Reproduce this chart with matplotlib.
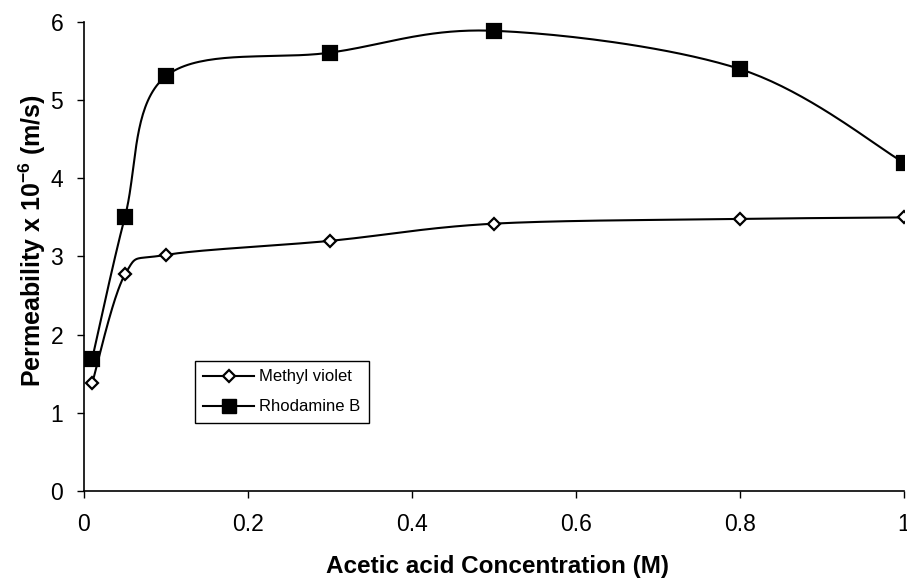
import numpy as np
import matplotlib
matplotlib.use("Agg")
import matplotlib.pyplot as plt
from matplotlib.lines import Line2D

plt.rcParams['font.family'] = ['Liberation Sans', 'DejaVu Sans']
plt.rcParams['mathtext.fontset'] = 'custom'
plt.rcParams['mathtext.rm'] = 'Liberation Sans'
plt.rcParams['mathtext.bf'] = 'Liberation Sans:bold'

concentration = [0.01, 0.05, 0.1, 0.3, 0.5, 0.8, 1.0]
methyl_violet = [1.38, 2.77, 3.02, 3.20, 3.42, 3.48, 3.50]
rhodamine_b = [1.69, 3.51, 5.31, 5.61, 5.89, 5.40, 4.20]

x_ticks = [0, 0.2, 0.4, 0.6, 0.8, 1]
x_tick_labels = ['0', '0.2', '0.4', '0.6', '0.8', '1']
y_ticks = [0, 1, 2, 3, 4, 5, 6]


def smooth_curve(ax, xs, ys, steps=40):
    """Spreadsheet-style smoothed line: cubic Bezier segments with
    Catmull-Rom control points, computed in display space."""
    pts = ax.transData.transform(np.column_stack([xs, ys]))
    n = len(pts)
    out = []
    t = np.linspace(0, 1, steps)[:, None]
    for i in range(n - 1):
        p0 = pts[i]
        p3 = pts[i + 1]
        prev = pts[i - 1] if i > 0 else pts[i]
        nxt = pts[i + 2] if i + 2 < n else pts[i + 1]
        p1 = p0 + (p3 - prev) / 6.0
        p2 = p3 - (nxt - p0) / 6.0
        seg = ((1 - t) ** 3) * p0 + 3 * ((1 - t) ** 2) * t * p1 \
            + 3 * (1 - t) * t ** 2 * p2 + t ** 3 * p3
        out.append(seg)
    curve = np.vstack(out)
    data = ax.transData.inverted().transform(curve)
    return data[:, 0], data[:, 1]


fig = plt.figure(figsize=(9.07, 5.8), dpi=100)
ax = fig.add_axes([84 / 907, (580 - 490.7) / 580, 820 / 907, 468.5 / 580])
ax.set_xlim(0, 1)
ax.set_ylim(0, 6)

for ys, marker, face, size, label in [
    (methyl_violet, 'D', 'white', 6.5, 'Methyl violet'),
    (rhodamine_b, 's', 'black', 9.5, 'Rhodamine B'),
]:
    cx, cy = smooth_curve(ax, concentration, ys)
    ax.plot(cx, cy, color='black', lw=1.5, zorder=2)
    ax.plot(concentration, ys, ls='none', marker=marker, ms=size,
            mfc=face, mec='black', mew=1.6, zorder=3)

ax.set_xticks(x_ticks)
ax.set_xticklabels(x_tick_labels)
ax.set_yticks(y_ticks)
ax.tick_params(direction='out', length=5, width=1, labelsize=16.5)
ax.tick_params(axis='x', pad=11)
ax.tick_params(axis='y', pad=10)
for s in ['top', 'right']:
    ax.spines[s].set_visible(False)
for s in ['left', 'bottom']:
    ax.spines[s].set_linewidth(1.2)

ax.set_xlabel('Acetic acid Concentration (M)', fontsize=17.5, fontweight='bold')
ax.xaxis.set_label_coords(0.504, -0.137)
ax.set_ylabel(r'Permeability x 10$^{\mathbf{-6}}$ (m/s)', fontsize=18,
              fontweight='bold', va='center')
ax.yaxis.set_label_coords(-0.0634, 0.533)

handles = [
    Line2D([], [], color='black', lw=1.5, marker='D', ms=6.5, mfc='white', mec='black', mew=1.6),
    Line2D([], [], color='black', lw=1.5, marker='s', ms=9.5, mfc='black', mec='black'),
]
leg = ax.legend(handles, ['Methyl violet', 'Rhodamine B'], loc='upper left',
                bbox_to_anchor=(111 / 820, (490.7 - 361) / 468.5), fontsize=12,
                frameon=True, fancybox=False, edgecolor='black', framealpha=1,
                handlelength=3.05, handletextpad=0.3, borderpad=0.5, labelspacing=0.9,
                borderaxespad=0)
leg.get_frame().set_linewidth(1.0)

fig.savefig('out.png', dpi=100)
